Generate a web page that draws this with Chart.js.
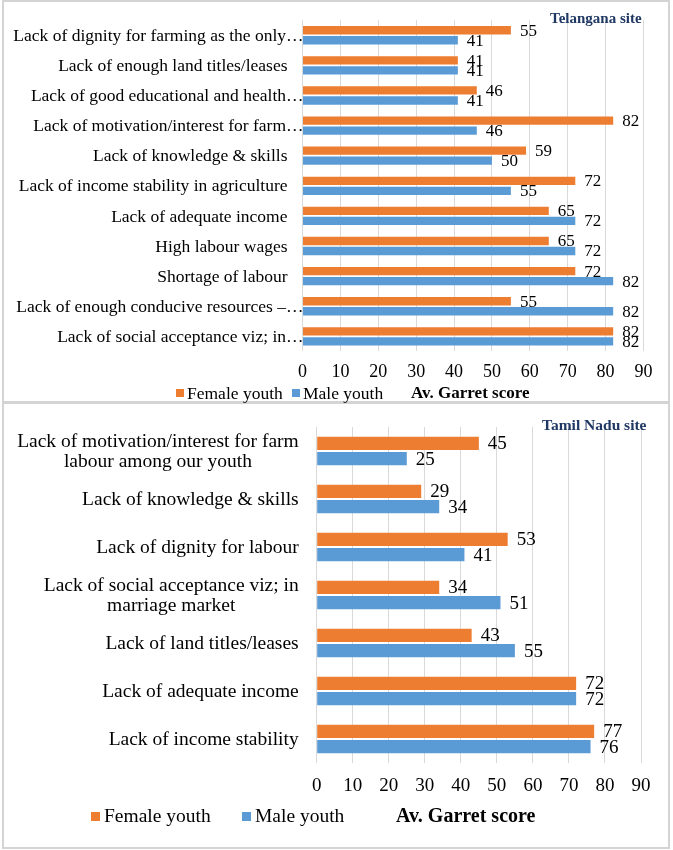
<!DOCTYPE html>
<html>
<head>
<meta charset="utf-8">
<script src="https://cdn.jsdelivr.net/npm/chart.js@4.4.0/dist/chart.umd.min.js"></script>
<style>
  html, body { margin: 0; padding: 0; background: #fff; }
  body { width: 673px; height: 850px; position: relative; overflow: hidden; font-family: 'Liberation Serif', 'Times New Roman', serif; color: #000; }
  .panel { position: absolute; border: 2px solid #d4d4d4; box-sizing: border-box; }
  .wrap { position: absolute; left: 0; width: 673px; }
  .txt { position: absolute; white-space: nowrap; height: 24px; line-height: 24px; }
  .sq { position: absolute; width: 8px; height: 8px; }
  .site { font-weight: bold; color: #1f3864; }
  .axt { font-weight: bold; }
</style>
</head>
<body>
<div class="panel" style="left:2px; top:0px; width:668px; height:403px;"></div>
<div class="panel" style="left:2px; top:402px; width:668px; height:447px;"></div>

<div class="wrap" style="top:0px; height:402px;"><canvas id="telanganaChart"></canvas></div>
<div class="wrap" style="top:402px; height:448px;"><canvas id="tamilChart"></canvas></div>

<!-- titles, legends, axis titles -->
<div class="txt site" style="left:550px; top:6px; font-size:15px;">Telangana site</div>
<div class="sq" style="left:176px; top:389px; background:#ED7D31;"></div>
<div class="txt" style="left:187px; top:381px; font-size:17.5px;">Female youth</div>
<div class="sq" style="left:292px; top:389px; background:#5B9BD5;"></div>
<div class="txt" style="left:303px; top:381px; font-size:17.5px;">Male youth</div>
<div class="txt axt" style="left:411px; top:381px; font-size:17px;">Av. Garret score</div>

<div class="txt site" style="left:542px; top:413px; font-size:15.5px;">Tamil Nadu site</div>
<div class="sq" style="left:91px; top:812px; width:9px; height:9px; background:#ED7D31;"></div>
<div class="txt" style="left:104px; top:804px; font-size:19.5px;">Female youth</div>
<div class="sq" style="left:242px; top:812px; width:9px; height:9px; background:#5B9BD5;"></div>
<div class="txt" style="left:255px; top:804px; font-size:19.5px;">Male youth</div>
<div class="txt axt" style="left:396px; top:803px; font-size:20px;">Av. Garret score</div>

<script>
// Telangana site
const tgCategories = [
    'Lack of dignity for farming as the only…',
    'Lack of enough land titles/leases',
    'Lack of good educational and health…',
    'Lack of motivation/interest for farm…',
    'Lack of knowledge & skills',
    'Lack of income stability in agriculture',
    'Lack of adequate income',
    'High labour wages',
    'Shortage of labour',
    'Lack of enough conducive resources –…',
    'Lack of social acceptance viz; in…'
];
const tgFemale = [55, 41, 46, 82, 59, 72, 65, 65, 72, 55, 82];
const tgMale = [41, 41, 41, 46, 50, 55, 72, 72, 82, 82, 82];

// Tamil Nadu site
const tnCategories = [
    ['Lack of motivation/interest for farm', 'labour among our youth'],
    'Lack of knowledge & skills',
    'Lack of dignity for labour',
    ['Lack of social acceptance viz; in', 'marriage market'],
    'Lack of land titles/leases',
    'Lack of adequate income',
    'Lack of income stability'
];
const tnFemale = [45, 29, 53, 34, 43, 72, 77];
const tnMale = [25, 34, 41, 51, 55, 72, 76];

const xTicks = [0, 10, 20, 30, 40, 50, 60, 70, 80, 90];

const FEMALE_COLOR = '#ED7D31';
const MALE_COLOR = '#5B9BD5';
const FONT = "'Liberation Serif', 'Times New Roman', serif";

// value labels at the end of every bar
const valueLabels = {
    id: 'valueLabels',
    afterDatasetsDraw(chart, args, opts) {
        const ctx = chart.ctx;
        ctx.save();
        ctx.font = `${opts.size}px ${FONT}`;
        ctx.fillStyle = '#000';
        ctx.textAlign = 'left';
        ctx.textBaseline = 'middle';
        chart.data.datasets.forEach((ds, i) => {
            const meta = chart.getDatasetMeta(i);
            meta.data.forEach((bar, j) => {
                ctx.fillText(String(ds.data[j]), bar.x + 9, bar.y + 1);
            });
        });
        ctx.restore();
    }
};

// category labels: right aligned block, lines centred inside the block
const categoryLabels = {
    id: 'categoryLabels',
    afterDraw(chart, args, opts) {
        const ctx = chart.ctx;
        const yScale = chart.scales.y;
        const left = chart.chartArea.left;
        ctx.save();
        ctx.font = `${opts.size}px ${FONT}`;
        ctx.fillStyle = '#000';
        ctx.textBaseline = 'middle';
        ctx.textAlign = 'center';
        chart.data.labels.forEach((label, i) => {
            const lines = Array.isArray(label) ? label : [label];
            const widths = lines.map(l => ctx.measureText(l).width);
            const maxW = Math.max(...widths);
            const truncated = lines[0].endsWith('…');
            const right = left - (truncated ? opts.gapTruncated : opts.gap);
            const cx = right - maxW / 2;
            const cy = yScale.getPixelForValue(i);
            const lh = opts.lineHeight;
            lines.forEach((l, k) => {
                const y = cy + (k - (lines.length - 1) / 2) * lh + 1;
                ctx.fillText(l, cx, y);
            });
        });
        ctx.restore();
    }
};

function makeChart(canvasId, labels, female, male, cfg) {
    const ctx = document.getElementById(canvasId).getContext('2d');
    return new Chart(ctx, {
        type: 'bar',
        data: {
            labels: labels,
            datasets: [
                {
                    label: 'Female youth',
                    data: female,
                    backgroundColor: FEMALE_COLOR,
                    categoryPercentage: cfg.catPct,
                    barPercentage: cfg.barPct
                },
                {
                    label: 'Male youth',
                    data: male,
                    backgroundColor: MALE_COLOR,
                    categoryPercentage: cfg.catPct,
                    barPercentage: cfg.barPct
                }
            ]
        },
        options: {
            indexAxis: 'y',
            responsive: true,
            maintainAspectRatio: false,
            animation: false,
            layout: {
                padding: { left: 0, right: cfg.padRight, top: cfg.padTop, bottom: 0 }
            },
            scales: {
                x: {
                    min: 0,
                    max: 90,
                    afterBuildTicks: scale => {
                        scale.ticks = xTicks.map(v => ({ value: v }));
                    },
                    afterFit: scale => { scale.height = cfg.xHeight; },
                    grid: { color: '#d9d9d9', lineWidth: 1, drawTicks: false },
                    border: { display: false },
                    ticks: {
                        padding: cfg.tickPad,
                        color: '#000',
                        font: { family: FONT, size: cfg.tickSize }
                    }
                },
                y: {
                    afterFit: scale => { scale.width = cfg.yWidth; },
                    grid: { display: false },
                    border: { display: false },
                    ticks: { display: false }
                }
            },
            plugins: {
                legend: { display: false },
                tooltip: { enabled: false },
                valueLabels: { size: cfg.valueSize },
                categoryLabels: {
                    size: cfg.labelSize,
                    gap: cfg.labelGap,
                    gapTruncated: cfg.labelGapTrunc,
                    lineHeight: cfg.lineHeight
                }
            }
        },
        plugins: [valueLabels, categoryLabels]
    });
}

makeChart('telanganaChart', tgCategories, tgFemale, tgMale, {
    catPct: 0.665, barPct: 0.83,
    padRight: 29.5, padTop: 20.2,
    yWidth: 302.5, xHeight: 50.6,
    tickPad: 10, tickSize: 18,
    valueSize: 17, labelSize: 17.5,
    labelGap: 15, labelGapTrunc: -1, lineHeight: 20
});

makeChart('tamilChart', tnCategories, tnFemale, tnMale, {
    catPct: 0.63, barPct: 0.87,
    padRight: 32, padTop: 25,
    yWidth: 316.7, xHeight: 87,
    tickPad: 12, tickSize: 19,
    valueSize: 19, labelSize: 19.5,
    labelGap: 18, labelGapTrunc: 0, lineHeight: 20
});
</script>
</body>
</html>
